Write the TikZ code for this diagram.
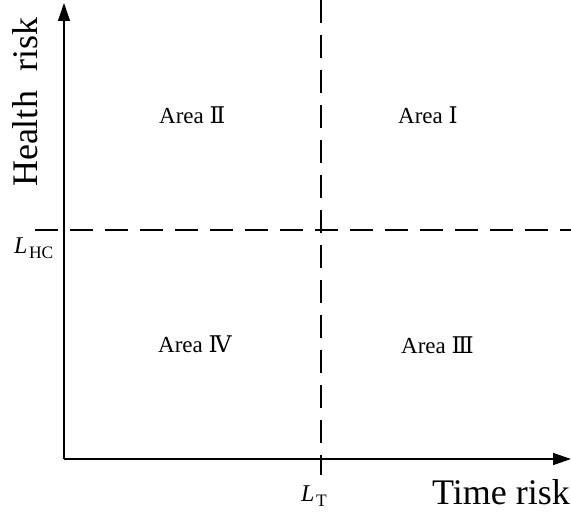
\documentclass[tikz,border=0pt]{standalone}
\usepackage{fontspec}
\setmainfont{Liberation Serif}
\newfontfamily\numfont{DejaVu Serif}
\usetikzlibrary{arrows.meta}
\newcommand{\sublevel}[2]{\textit{#1}\kern1.5pt\raisebox{-5pt}{\fontsize{17.5}{17.5}\selectfont #2}}
\tikzset{
  axis/.style={line width=1.4pt,-{Triangle[length=18pt,width=12pt]}},
  guide/.style={line width=1.2pt,dash pattern=on 23pt off 12pt},
  area/.style={font=\fontsize{23}{26}\selectfont,anchor=base west,inner sep=0pt},
  axislabel/.style={font=\fontsize{36}{40}\selectfont,inner sep=0pt},
  level/.style={font=\fontsize{24}{28}\selectfont,anchor=base west,inner sep=0pt}
}
\begin{document}
\begin{tikzpicture}[x=1pt,y=-1pt]
  \useasboundingbox (0,0) rectangle (571,518);
  % origin and axis ends
  \coordinate (O) at (64,459);
  \coordinate (ytop) at (64,3);
  \coordinate (xend) at (571,459);
  % threshold guides
  \coordinate (vtop) at (321,0);
  \coordinate (vbot) at (321,475);
  \coordinate (hleft) at (35,230);
  \coordinate (hright) at (571,230);
  \draw[guide] (vtop) -- (vbot);
  \draw[guide] (hleft) -- (hright);
  % axes
  \draw[axis] (O) -- (ytop);
  \draw[axis] (O) -- (xend);
  % axis titles
  \node[axislabel,rotate=90,anchor=base] (hr) at (37,102) {Health\hspace{20pt}risk};
  \node[axislabel,anchor=base] (tr) at (501,505) {Time risk};
  % threshold levels
  \node[level] (lhc) at (14,254) {\sublevel{L}{HC}};
  \node[level] (lt) at (301,502) {\sublevel{L}{T}};
  % quadrant names
  \node[area] (a2) at (159,124) {Area {\numfont Ⅱ}};
  \node[area] (a1) at (398,124) {Area {\numfont Ⅰ}};
  \node[area] (a4) at (158,353) {Area {\numfont Ⅳ}};
  \node[area] (a3) at (401,354) {Area {\numfont Ⅲ}};
\end{tikzpicture}
\end{document}
